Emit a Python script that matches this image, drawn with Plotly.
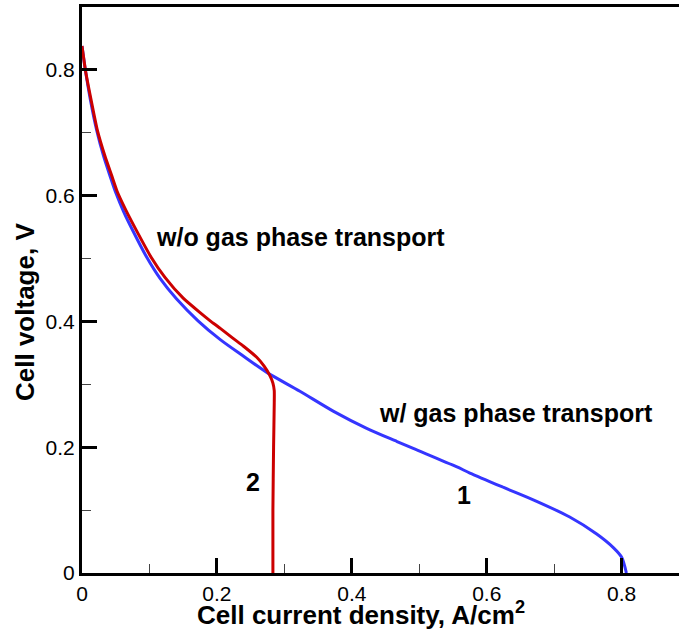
import plotly.graph_objects as go

# Curve 1: with gas phase transport (blue)
blue_i = [0, 0.005, 0.012, 0.022, 0.032, 0.042, 0.050, 0.062, 0.076, 0.096, 0.116,
          0.140, 0.172, 0.205, 0.239, 0.274, 0.323, 0.373, 0.422, 0.467, 0.491,
          0.555, 0.575, 0.625, 0.674, 0.723, 0.763, 0.788, 0.800, 0.807]
blue_v = [0.838, 0.800, 0.755, 0.703, 0.663, 0.630, 0.605, 0.574, 0.543, 0.502, 0.468,
          0.436, 0.401, 0.371, 0.345, 0.319, 0.289, 0.257, 0.230, 0.209, 0.198,
          0.169, 0.159, 0.136, 0.114, 0.089, 0.062, 0.040, 0.025, 0.000]

# Curve 2: without gas phase transport (red)
red_i = [0, 0.005, 0.013, 0.023, 0.034, 0.044, 0.052, 0.065, 0.080, 0.102, 0.123,
         0.150, 0.175, 0.190, 0.205, 0.224, 0.239, 0.259, 0.270, 0.278, 0.283,
         0.285, 0.285, 0.284, 0.283, 0.283]
red_v = [0.838, 0.800, 0.755, 0.703, 0.663, 0.632, 0.607, 0.577, 0.546, 0.503, 0.470,
         0.437, 0.414, 0.401, 0.389, 0.373, 0.361, 0.343, 0.329, 0.315, 0.302,
         0.290, 0.270, 0.200, 0.100, 0.000]

x_ticks = [0, 0.2, 0.4, 0.6, 0.8]
x_labels = ["0", "0.2", "0.4", "0.6", "0.8"]
y_ticks = [0, 0.2, 0.4, 0.6, 0.8]
y_labels = ["0", "0.2", "0.4", "0.6", "0.8"]

FONT = "Liberation Sans, Arial, Helvetica, sans-serif"

fig = go.Figure()
fig.add_trace(go.Scatter(x=blue_i, y=blue_v, mode="lines",
                         line=dict(color="#3535ff", width=3, shape="spline", smoothing=0.8),
                         showlegend=False))
fig.add_trace(go.Scatter(x=red_i, y=red_v, mode="lines",
                         line=dict(color="#cc0000", width=3, shape="spline", smoothing=0.5),
                         showlegend=False))

axis_common = dict(
    showgrid=False, zeroline=False, showline=True, linecolor="black", linewidth=3,
    ticks="inside", ticklen=15, tickwidth=3, tickcolor="black",
    tickfont=dict(family=FONT, size=21, color="black"),
    minor=dict(dtick=0.1, ticks="inside", ticklen=9, tickwidth=1, tickcolor="#444"),
)

fig.update_xaxes(range=[0, 0.885], tickvals=x_ticks, ticktext=x_labels,
                 mirror=True, **axis_common)
fig.update_yaxes(range=[0, 0.9], tickvals=y_ticks, ticktext=y_labels,
                 mirror=False, **axis_common)

ann_font = dict(family=FONT, size=25, color="black")
title_font = dict(family=FONT, size=26, color="black")
fig.add_annotation(x=0.107, y=0.534, xref="x", yref="y", text="<b>w/o gas phase transport</b>",
                   showarrow=False, xanchor="left", yanchor="middle", font=ann_font)
fig.add_annotation(x=0.438, y=0.254, xref="x", yref="y", text="<b>w/ gas phase transport</b>",
                   showarrow=False, xanchor="left", yanchor="middle", font=ann_font)
fig.add_annotation(x=0.254, y=0.145, xref="x", yref="y", text="<b>2</b>",
                   showarrow=False, xanchor="center", yanchor="middle", font=ann_font)
fig.add_annotation(x=0.566, y=0.124, xref="x", yref="y", text="<b>1</b>",
                   showarrow=False, xanchor="center", yanchor="middle", font=ann_font)

# axis titles (positions given in pixels, converted to paper coords)
pw = 679 - 82
ph = 630 - 7 - 57
fig.add_annotation(x=(361 - 82) / pw, y=(573 - 613) / ph, xref="paper", yref="paper",
                   text="<b>Cell current density, A/cm<sup>2</sup></b>",
                   showarrow=False, xanchor="center", yanchor="middle", font=title_font)
fig.add_annotation(x=(25 - 82) / pw, y=(573 - 312) / ph, xref="paper", yref="paper",
                   text="<b>Cell voltage, V</b>", textangle=-90,
                   showarrow=False, xanchor="center", yanchor="middle", font=title_font)

fig.update_layout(
    width=679, height=630,
    margin=dict(l=82, r=0, t=7, b=57),
    paper_bgcolor="white", plot_bgcolor="white",
)

fig.write_html("out.html")
